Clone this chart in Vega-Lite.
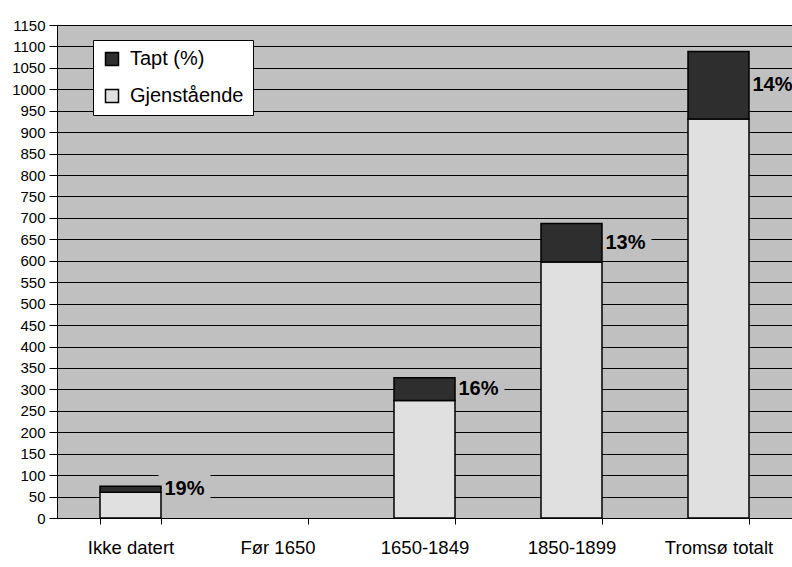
{
  "$schema": "https://vega.github.io/schema/vega-lite/v6.json",
  "width": 735,
  "height": 493,
  "autosize": {"type": "none"},
  "padding": {"left": 57, "top": 25, "right": 0, "bottom": 49},
  "background": "white",
  "config": {
    "view": {"fill": "#c0c0c0", "stroke": "black", "strokeWidth": 1},
    "font": "Liberation Sans"
  },
  "datasets": {
    "bars": [
      {"kategori": "Ikke datert", "serie": "Gjenstående", "antall": 60},
      {"kategori": "Ikke datert", "serie": "Tapt (%)", "antall": 14},
      {"kategori": "1650-1849", "serie": "Gjenstående", "antall": 274},
      {"kategori": "1650-1849", "serie": "Tapt (%)", "antall": 53},
      {"kategori": "1850-1899", "serie": "Gjenstående", "antall": 597},
      {"kategori": "1850-1899", "serie": "Tapt (%)", "antall": 90},
      {"kategori": "Tromsø totalt", "serie": "Gjenstående", "antall": 931},
      {"kategori": "Tromsø totalt", "serie": "Tapt (%)", "antall": 157}
    ],
    "labels": [
      {"kategori": "Ikke datert", "pct": "19%", "gjenst": 60, "tapt": 14},
      {"kategori": "1650-1849", "pct": "16%", "gjenst": 274, "tapt": 53},
      {"kategori": "1850-1899", "pct": "13%", "gjenst": 597, "tapt": 90},
      {"kategori": "Tromsø totalt", "pct": "14%", "gjenst": 931, "tapt": 157}
    ]
  },
  "layer": [
    {
      "data": {"name": "labels"},
      "transform": [{"calculate": "datum.gjenst + datum.tapt / 2", "as": "mid"}],
      "mark": {
        "type": "point",
        "shape": "M-1,-0.55H1V0.55H-1Z",
        "filled": true,
        "fill": "#c0c0c0",
        "opacity": 1,
        "size": 2704,
        "strokeWidth": 0,
        "xOffset": 54
      },
      "encoding": {
        "x": {
          "field": "kategori",
          "type": "nominal",
          "scale": {
            "domain": ["Ikke datert", "Før 1650", "1650-1849", "1850-1899", "Tromsø totalt"],
            "paddingInner": 0.585,
            "paddingOuter": 0.2925
          },
          "axis": {
            "title": null,
            "tickBand": "extent",
            "tickSize": 6,
            "tickColor": "black",
            "domainColor": "black",
            "labelAngle": 0,
            "labelFontSize": 18.5,
            "labelColor": "black",
            "labelPadding": 14,
            "grid": false
          }
        },
        "y": {
          "field": "mid",
          "type": "quantitative",
          "scale": {"domain": [0, 1150], "nice": false},
          "axis": {
            "title": null,
            "tickCount": 23,
            "format": "d",
            "labelOverlap": false,
            "labelFontSize": 15,
            "labelColor": "black",
            "tickSize": 8,
            "tickColor": "black",
            "labelPadding": 4,
            "domainColor": "black",
            "grid": true,
            "gridColor": "black",
            "gridOpacity": 1,
            "gridWidth": 1
          }
        }
      }
    },
    {
      "data": {"name": "bars"},
      "mark": {"type": "bar", "stroke": "black", "strokeWidth": 1.5},
      "encoding": {
        "x": {"field": "kategori", "type": "nominal"},
        "y": {"field": "antall", "type": "quantitative", "stack": "zero"},
        "color": {
          "field": "serie",
          "type": "nominal",
          "scale": {"domain": ["Tapt (%)", "Gjenstående"], "range": ["#2e2e2e", "#e0e0e0"]},
          "legend": {
            "title": null,
            "orient": "none",
            "legendX": 36,
            "legendY": 15,
            "fillColor": "white",
            "strokeColor": "black",
            "padding": 9,
            "labelFontSize": 20,
            "labelColor": "black",
            "labelOffset": 8,
            "symbolType": "square",
            "symbolSize": 169,
            "rowPadding": 17,
            "encode": {
              "symbols": {"update": {"stroke": {"value": "black"}, "strokeWidth": {"value": 1}}}
            }
          }
        },
        "order": {"field": "serie", "sort": "ascending"}
      }
    },
    {
      "data": {"name": "labels"},
      "transform": [{"calculate": "datum.gjenst + datum.tapt / 2", "as": "mid"}],
      "mark": {
        "type": "text",
        "fontWeight": "bold",
        "fontSize": 20,
        "color": "black",
        "xOffset": 54
      },
      "encoding": {
        "x": {"field": "kategori", "type": "nominal"},
        "y": {"field": "mid", "type": "quantitative"},
        "text": {"field": "pct"}
      }
    }
  ]
}
